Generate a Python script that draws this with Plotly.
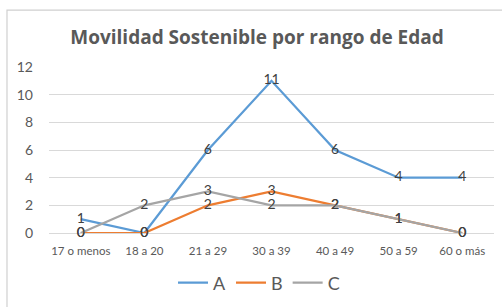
import plotly.graph_objects as go

categories = ["17 o menos", "18 a 20", "21 a 29", "30 a 39", "40 a 49", "50 a 59", "60 o más"]
serie_a = [1, 0, 6, 11, 6, 4, 4]
serie_b = [0, 0, 2, 3, 2, 1, 0]
serie_c = [0, 2, 3, 2, 2, 1, 0]
y_ticks = [0, 2, 4, 6, 8, 10, 12]

font_family = "Lato, 'Open Sans', sans-serif"

fig = go.Figure()
for name, vals, color in [("A", serie_a, "#5B9BD5"), ("B", serie_b, "#ED7D31"), ("C", serie_c, "#A5A5A5")]:
    fig.add_trace(go.Scatter(
        x=categories, y=vals, name=name, mode="lines+text",
        text=[str(v) for v in vals], textposition="middle center",
        textfont=dict(family=font_family, size=14, color="#404040"),
        line=dict(color=color, width=2.25),
        cliponaxis=False,
    ))

fig.update_layout(
    width=502, height=307,
    margin=dict(l=49, r=8, t=67, b=74, autoexpand=False),
    paper_bgcolor="white", plot_bgcolor="white",
    title=dict(text="<b>Movilidad Sostenible por rango de Edad</b>", x=257/502, xanchor="center",
               y=1 - 37/307, yanchor="middle", yref="container", xref="container",
               font=dict(family="'Open Sans', sans-serif", size=19, color="#595959")),
    showlegend=True,
    legend=dict(orientation="h", x=259/502, xanchor="center", xref="container",
                y=1 - 283/307, yanchor="middle", yref="container",
                font=dict(family=font_family, size=18, color="#595959"), itemwidth=30),
    xaxis=dict(showgrid=False, showline=False, ticks="", tickfont=dict(family=font_family, size=11.5, color="#595959"),
               tickangle=0, range=[-0.5, 6.5], ticklabelstandoff=9),
    yaxis=dict(range=[0, 12], tickvals=y_ticks, showgrid=True, gridcolor="#D9D9D9", gridwidth=1,
               zeroline=True, zerolinecolor="#D9D9D9", zerolinewidth=1,
               tickfont=dict(family=font_family, size=14, color="#595959"), ticklabelstandoff=15),
    shapes=[dict(type="rect", xref="paper", yref="paper", x0=-0.0944, x1=1.2, y0=-0.6, y1=1.343,
                 line=dict(color="#D0D0D0", width=1.2), layer="above")],
)

fig.write_html("out.html", config={"displayModeBar": False},
               post_script="document.body.style.margin='0';document.body.style.overflow='hidden';")
